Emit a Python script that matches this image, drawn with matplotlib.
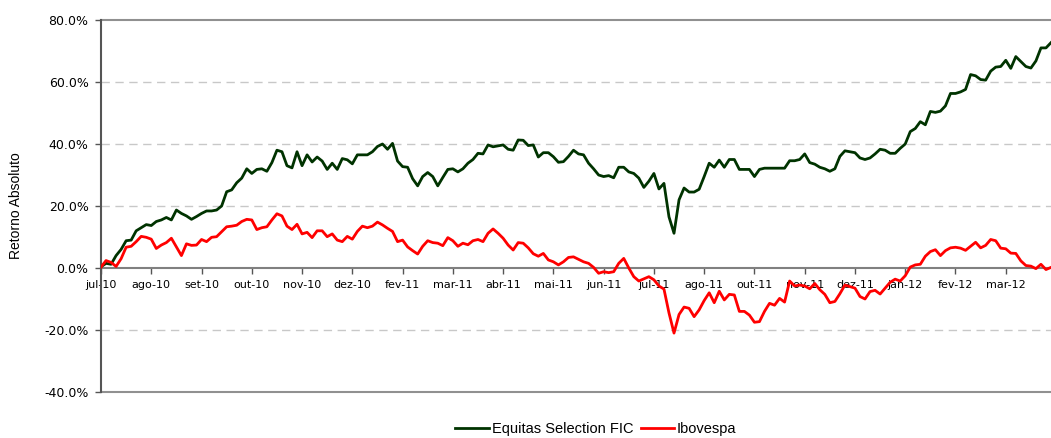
from matplotlib import pyplot as plt

# retorno acumulado (%) - um ponto a cada ~meia semana
equitas = [0.4, 1.5, 1.2, 4, 6, 8.8, 9, 12, 13, 14,
           13.7, 15, 15.5, 16.3, 15.5, 18.7, 17.6, 16.8, 15.7, 16.6,
           17.6, 18.4, 18.4, 18.7, 20, 24.6, 25.2, 27.5, 29, 32,
           30.5, 31.8, 32, 31.2, 34, 38, 37.5, 33, 32.3, 37.5,
           33, 36.5, 34.2, 35.8, 34.5, 31.8, 33.8, 31.8, 35.3, 34.9,
           33.6, 36.5, 36.5, 36.5, 37.5, 39.2, 40, 38.3, 40.2, 34.5,
           32.7, 32.5, 28.8, 26.5, 29.5, 30.8, 29.5, 26.5, 29.2, 31.8,
           32, 31, 32, 33.8, 35, 37, 36.8, 39.7, 39.1, 39.4,
           39.7, 38.3, 38, 41.3, 41.2, 39.5, 39.7, 35.8, 37.2, 37.2,
           35.9, 34.1, 34.3, 36, 38, 36.8, 36.5, 33.8, 32, 30,
           29.5, 29.8, 29.1, 32.5, 32.5, 31, 30.5, 29, 26, 28,
           30.5, 25.5, 27.3, 16.5, 11.2, 22, 25.8, 24.5, 24.5, 25.4,
           29.5, 33.8, 32.5, 34.8, 32.5, 35, 35, 31.8, 31.8, 31.8,
           29.5, 31.8, 32.2, 32.2, 32.2, 32.2, 32.2, 34.6, 34.6, 35,
           36.8, 34, 33.5, 32.5, 32, 31.2, 32, 36, 37.8, 37.5,
           37.2, 35.5, 35, 35.5, 36.8, 38.3, 38, 37, 37, 38.6,
           40, 44, 45, 47.2, 46.2, 50.5, 50.2, 50.6, 52.3, 56.3,
           56.3, 56.8, 57.6, 62.4, 62, 60.8, 60.6, 63.5, 64.8, 65,
           67, 64.4, 68.2, 66.6, 65, 64.5, 66.8, 71, 71, 72.7]

ibovespa = [0.3, 2.4, 1.8, 0.5, 3, 6.7, 7, 8.5, 10.2, 9.9,
            9.3, 6.3, 7.4, 8.2, 9.6, 6.8, 4, 7.8, 7.3, 7.4,
            9.2, 8.5, 9.9, 10.1, 11.7, 13.3, 13.5, 13.8, 15, 15.7,
            15.5, 12.4, 13, 13.3, 15.5, 17.5, 16.8, 13.5, 12.4, 14.1,
            11, 11.5, 9.8, 12, 12, 10.1, 11, 9, 8.5, 10.2,
            9.3, 11.8, 13.5, 13, 13.5, 14.8, 13.9, 12.8, 11.8, 8.5,
            9, 6.8, 5.6, 4.5, 7, 8.8, 8.2, 8, 7.2, 9.8,
            8.8, 7, 8, 7.5, 8.8, 9.2, 8.5, 11.2, 12.6, 11.2,
            9.6, 7.4, 5.8, 8.2, 8, 6.5, 4.6, 3.8, 4.7, 2.6,
            2, 1, 2, 3.4, 3.6, 2.8, 2, 1.5, 0.2, -1.7,
            -1.2, -1.5, -1.2, 1.5, 3.1, 0, -2.8, -4.2, -3.5, -2.8,
            -3.8, -5.8, -6.8, -14.5, -21, -15, -12.6, -13, -15.7, -13.5,
            -10.5, -8, -11.2, -7.5, -10.3, -8.5, -8.7, -14, -14, -15.2,
            -17.5, -17.3, -14, -11.4, -12, -9.8, -11, -4.2, -5.8, -5.5,
            -5.8, -6.7, -5, -7, -8.5, -11.2, -10.8, -8.3, -5.5, -6,
            -6.5, -9.2, -10, -7.6, -7.2, -8.4, -6.5, -4.6, -3.6, -4.2,
            -2.5, 0.3, 1, 1.2, 3.8, 5.3, 5.9, 4, 5.6, 6.5,
            6.7, 6.4, 5.7, 7, 8.3, 6.5, 7.3, 9.2, 8.8, 6.4,
            6.2, 4.8, 4.7, 2.3, 0.8, 0.6, -0.2, 1.2, -0.5, 0.2]

meses = ['jul-10', 'ago-10', 'set-10', 'out-10', 'nov-10', 'dez-10', 'fev-11',
         'mar-11', 'abr-11', 'mai-11', 'jun-11', 'jul-11', 'ago-11', 'out-11',
         'nov-11', 'dez-11', 'jan-12', 'fev-12', 'mar-12']
y_ticks = [-40, -20, 0, 20, 40, 60, 80]

x_values = list(range(len(equitas)))

fig = plt.figure(figsize=(10.51, 4.38), dpi=100)
ax = fig.add_axes([101 / 1051, 1 - 392 / 438, 950 / 1051, 372 / 438])

for v in [-20, 20, 40, 60]:
    ax.axhline(v, color='#c8c8c8', lw=1, linestyle=(0, (6, 4)), zorder=1)
ax.axhline(80, color='#909090', lw=1.5, zorder=1, clip_on=False)
ax.axhline(-40, color='#909090', lw=1.5, zorder=1, clip_on=False)

ax.plot(x_values, equitas, color='#003300', lw=2, label='Equitas Selection FIC', zorder=3)
ax.plot(x_values, ibovespa, color='#ff0000', lw=2, label='Ibovespa', zorder=4)

ax.set_xlim(0, len(equitas) - 1)
ax.set_ylim(-40, 80)

ax.spines['top'].set_visible(False)
ax.spines['right'].set_visible(False)
ax.spines['bottom'].set_position(('data', 0))
ax.spines['bottom'].set_color('#808080')
ax.spines['bottom'].set_linewidth(1.5)
ax.spines['bottom'].set_zorder(2)
ax.spines['left'].set_color('#555555')
ax.spines['left'].set_linewidth(1.5)

ax.set_xticks(range(0, 10 * len(meses), 10))
ax.set_xticklabels(meses, fontsize=8)
ax.tick_params(axis='x', direction='out', length=4, width=1, color='#555555', pad=5)
ax.set_yticks(y_ticks)
ax.set_yticklabels(['%.1f%%' % v for v in y_ticks], fontsize=9)
ax.tick_params(axis='y', direction='out', length=4, width=1, color='#555555', pad=5)

fig.text(16 / 1051, 1 - 206 / 438, 'Retorno Absoluto', rotation=90, ha='center', va='center',
         fontsize=10, family='Liberation Sans')

fig.legend(loc='center', bbox_to_anchor=(596 / 1051, 1 - 429 / 438), ncol=2, frameon=False,
           prop={'family': 'Liberation Sans', 'size': 10.5}, handlelength=2.3,
           handletextpad=0.2, columnspacing=0.5, borderaxespad=0)

fig.savefig('out.png', dpi=100)
